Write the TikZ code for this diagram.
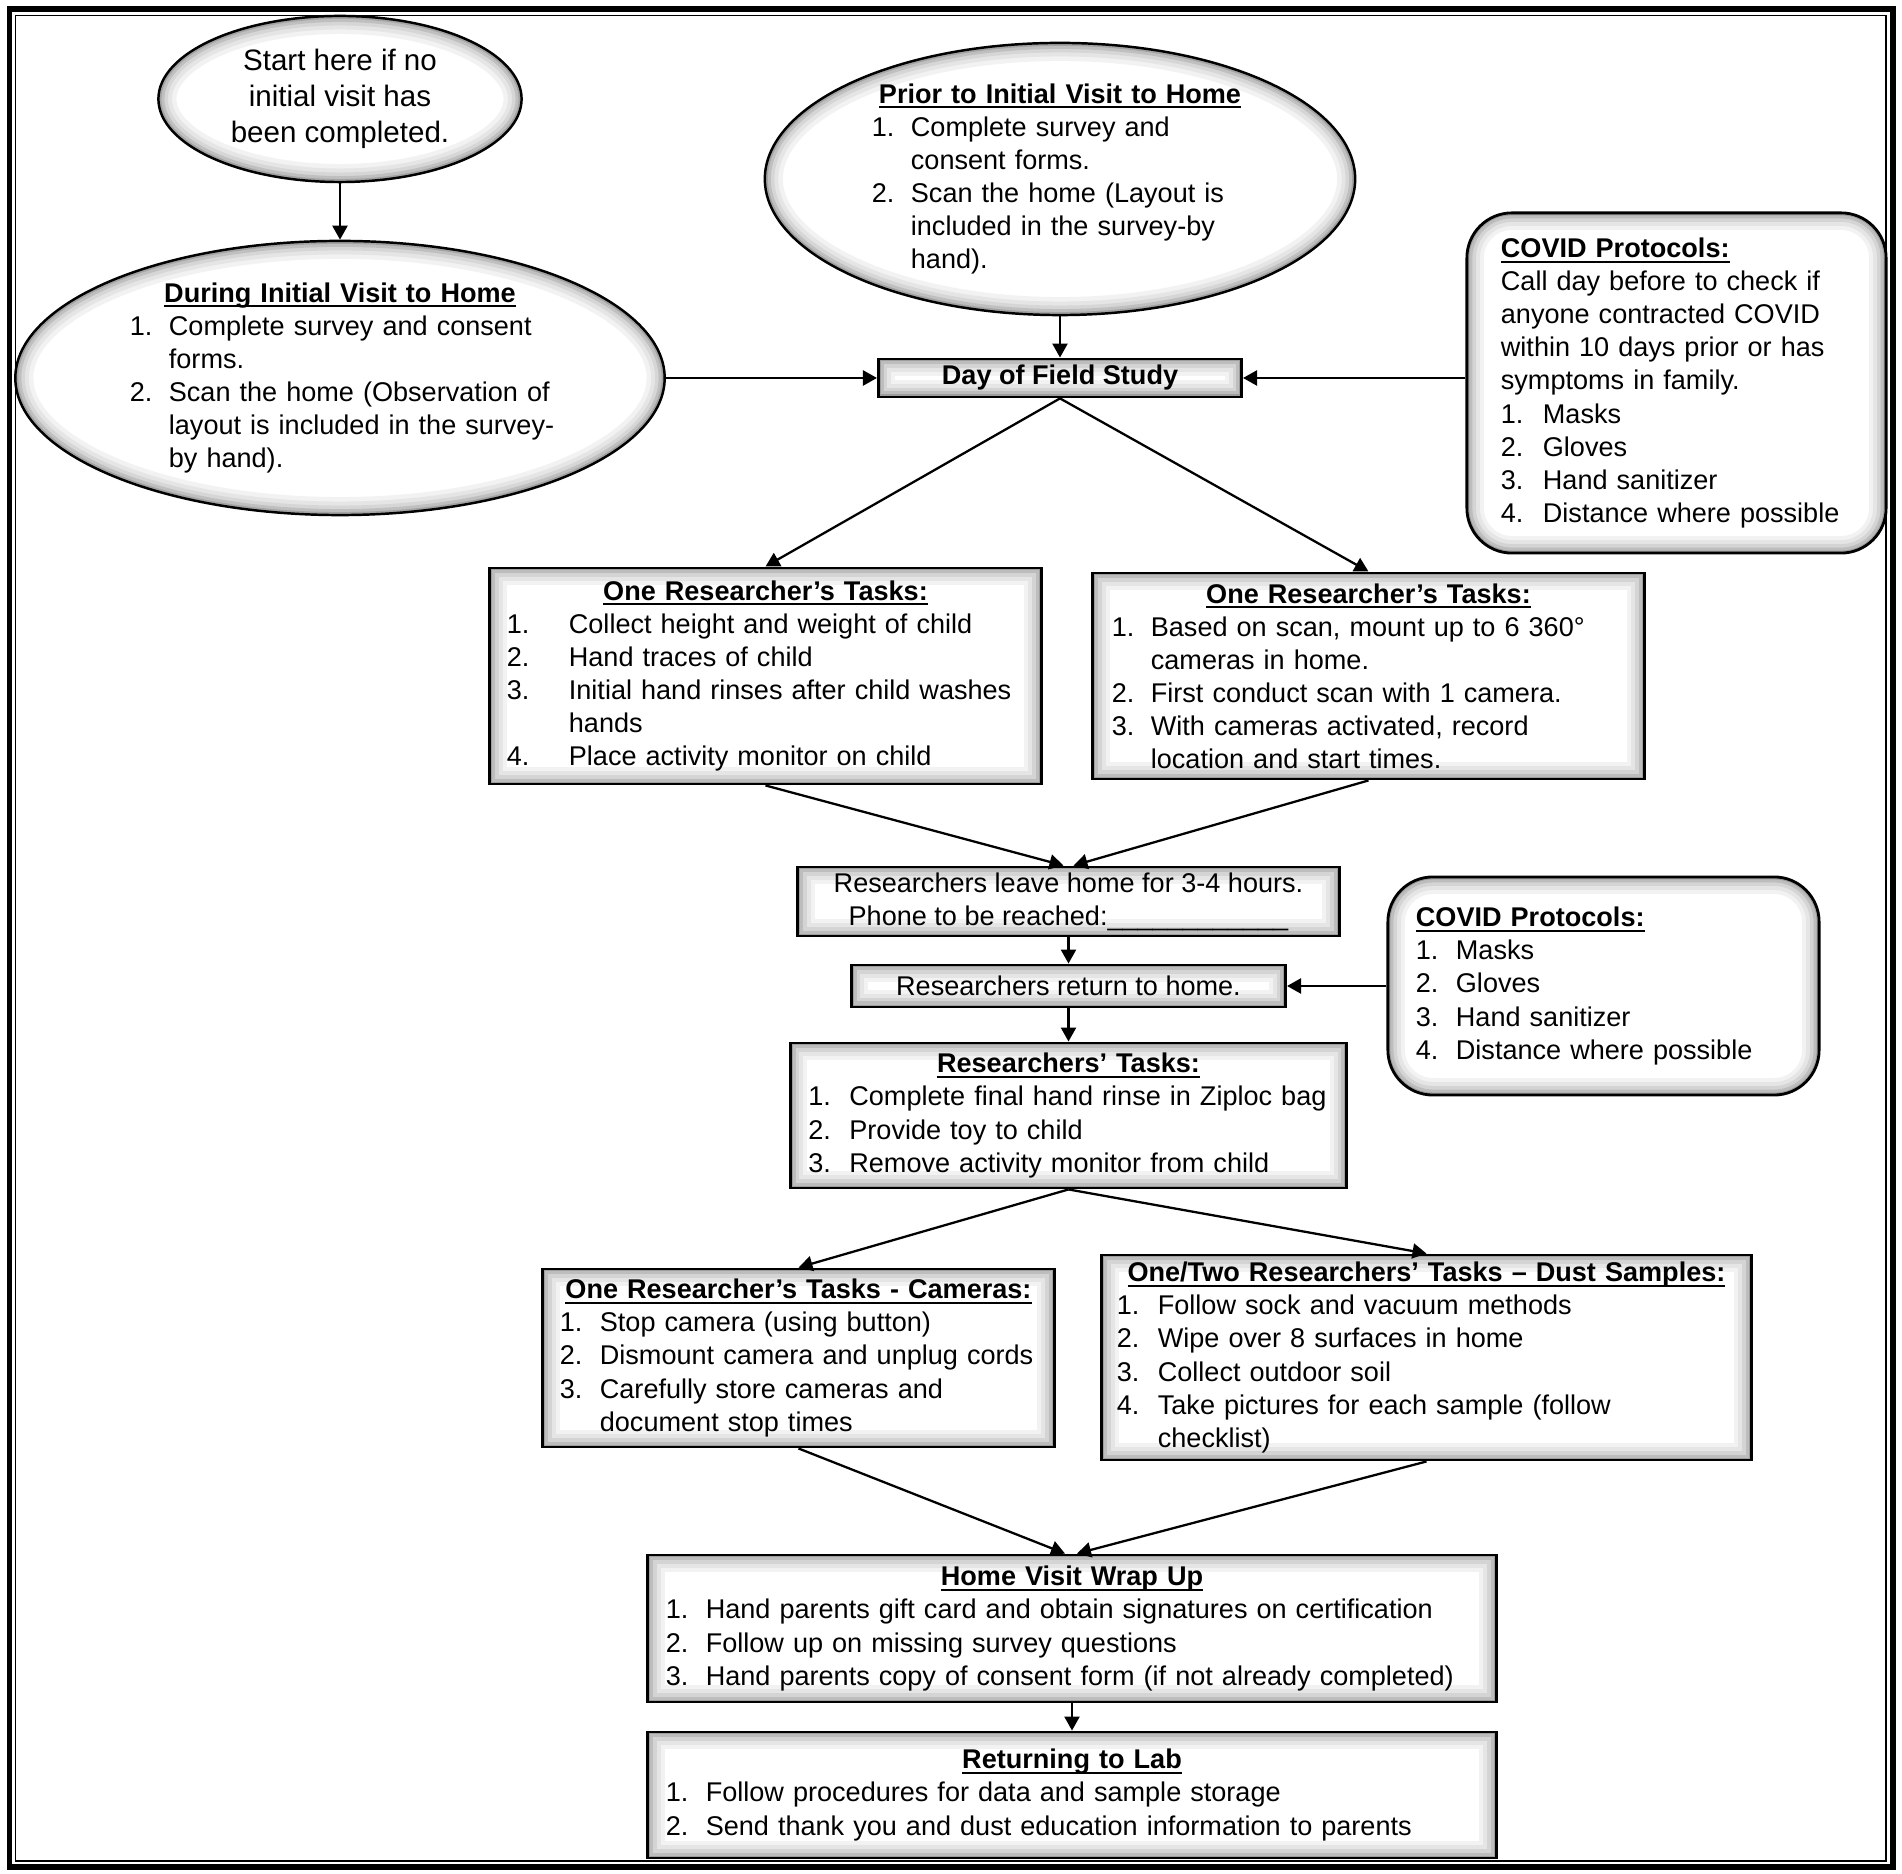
\documentclass[tikz,border=0pt]{standalone}
\usepackage{fontspec}
\setmainfont{Liberation Sans}
\usepackage{tikz}
\usetikzlibrary{shapes.geometric, arrows.meta, calc}
\newcommand{\boxfont}{\fontsize{7.7pt}{9.39pt}\selectfont}
\newcommand{\startfont}{\fontsize{8.4pt}{10.24pt}\selectfont}
\newlength{\numw}
\newcommand{\itemln}[2]{\mbox{\makebox[\numw][l]{#1}#2}}
\newcommand{\titleul}[1]{\setbox0=\hbox{\textbf{#1}}\rlap{\rule[-1.4pt]{\wd0}{0.55pt}}\box0}
\newcommand{\midhead}[1]{\noindent\hbox to\hsize{\hss\titleul{#1}\hss}}
\newcommand{\lefthead}[1]{\noindent\titleul{#1}}
\tikzset{
  boxglow/.style={path picture={
    \draw[black!5, line width=0.34cm, rounded corners=#1] (path picture bounding box.south west) rectangle (path picture bounding box.north east);
    \draw[black!10, line width=0.26cm, rounded corners=#1] (path picture bounding box.south west) rectangle (path picture bounding box.north east);
    \draw[black!17, line width=0.18cm, rounded corners=#1] (path picture bounding box.south west) rectangle (path picture bounding box.north east);
    \draw[black!26, line width=0.11cm, rounded corners=#1] (path picture bounding box.south west) rectangle (path picture bounding box.north east);
    \draw[black!38, line width=0.05cm, rounded corners=#1] (path picture bounding box.south west) rectangle (path picture bounding box.north east);
  }},
  boxglow/.default=0pt,
  ovalglow/.style={path picture={
    \path let \p1=($(path picture bounding box.north east)-(path picture bounding box.center)$) in
      \pgfextra{\xdef\ovrx{\x1}\xdef\ovry{\y1}};
    \draw[black!5, line width=0.36cm] (path picture bounding box.center) ellipse [x radius=\ovrx, y radius=\ovry];
    \draw[black!10, line width=0.27cm] (path picture bounding box.center) ellipse [x radius=\ovrx, y radius=\ovry];
    \draw[black!16, line width=0.19cm] (path picture bounding box.center) ellipse [x radius=\ovrx, y radius=\ovry];
    \draw[black!25, line width=0.12cm] (path picture bounding box.center) ellipse [x radius=\ovrx, y radius=\ovry];
    \draw[black!36, line width=0.06cm] (path picture bounding box.center) ellipse [x radius=\ovrx, y radius=\ovry];
  }},
  ovalnode/.style={draw, ellipse, line width=0.7pt, fill=white, inner sep=0pt, align=left, font=\boxfont, ovalglow},
  tasknode/.style={draw, rectangle, line width=0.8pt, fill=white, inner sep=0pt, align=left, font=\boxfont, boxglow},
  stepnode/.style={tasknode, align=center},
  covidnode/.style={draw, rectangle, rounded corners=0.45cm, line width=0.8pt, fill=white, inner sep=0pt, align=left, font=\boxfont, boxglow=0.45cm},
  listindent/.style={execute at begin node={\setlength{\numw}{#1}}},
  arrow/.style={-{Triangle[length=1.4mm, width=1.5mm]}, line width=0.65pt}
}
\begin{document}
\begin{tikzpicture}[x=0.01cm, y=-0.01cm]
\useasboundingbox (0,0) rectangle (1902,1874);

% Frame
\draw[line width=1.7pt] (9.5,9.5) rectangle (1893,1867);
\draw[line width=0.45pt] (15.5,15.5) rectangle (1886,1861);

% Nodes
\node[ovalnode, align=center, font=\startfont, minimum width=3.63cm, minimum height=1.66cm] (start) at (340,99)
  {Start here if no\\ initial visit has\\ been completed.};
\node[ovalnode, text width=4.20cm, listindent=0.39cm, minimum width=6.49cm, minimum height=2.74cm] (during) at (340,378)
  {\midhead{During Initial Visit to Home}\\
   \itemln{1.}{Complete survey and consent}\\
   \itemln{}{forms.}\\
   \itemln{2.}{Scan the home (Observation of}\\
   \itemln{}{layout is included in the survey-}\\
   \itemln{}{by hand).}};
\node[ovalnode, text width=3.76cm, listindent=0.39cm, minimum width=5.90cm, minimum height=2.72cm] (prior) at (1060,179)
  {\midhead{Prior to Initial Visit to Home}\\
   \itemln{1.}{Complete survey and}\\
   \itemln{}{consent forms.}\\
   \itemln{2.}{Scan the home (Layout is}\\
   \itemln{}{included in the survey-by}\\
   \itemln{}{hand).}};
\node[stepnode, minimum width=3.63cm, minimum height=0.38cm] (day) at (1060,378) {\textbf{Day of Field Study}};
\node[covidnode, text width=3.51cm, listindent=0.42cm, minimum width=4.19cm, minimum height=3.40cm] (covidA) at (1676.5,383)
  {\lefthead{COVID Protocols:}\\
   \mbox{Call day before to check if}\\
   \mbox{anyone contracted COVID}\\
   \mbox{within 10 days prior or has}\\
   \mbox{symptoms in family.}\\
   \itemln{1.}{Masks}\\
   \itemln{2.}{Gloves}\\
   \itemln{3.}{Hand sanitizer}\\
   \itemln{4.}{Distance where possible}};
\node[tasknode, text width=5.17cm, listindent=0.62cm, minimum width=5.51cm, minimum height=2.16cm] (taskA) at (765.5,676)
  {\midhead{One Researcher’s Tasks:}\\
   \itemln{1.}{Collect height and weight of child}\\
   \itemln{2.}{Hand traces of child}\\
   \itemln{3.}{Initial hand rinses after child washes}\\
   \itemln{}{hands}\\
   \itemln{4.}{Place activity monitor on child}};
\node[tasknode, text width=5.13cm, listindent=0.39cm, minimum width=5.51cm, minimum height=2.06cm] (taskB) at (1368.5,676)
  {\midhead{One Researcher’s Tasks:}\\
   \itemln{1.}{Based on scan, mount up to 6 360°}\\
   \itemln{}{cameras in home.}\\
   \itemln{2.}{First conduct scan with 1 camera.}\\
   \itemln{3.}{With cameras activated, record}\\
   \itemln{}{location and start times.}};
\node[stepnode, minimum width=5.41cm, minimum height=0.69cm] (leave) at (1068.5,901.5)
  {Researchers leave home for 3-4 hours.\\ Phone to be reached:\_\_\_\_\_\_\_\_\_\_\_\_};
\node[stepnode, minimum width=4.34cm, minimum height=0.42cm] (ret) at (1068.5,986) {Researchers return to home.};
\node[covidnode, text width=3.75cm, listindent=0.40cm, minimum width=4.31cm, minimum height=2.18cm] (covidB) at (1603.5,986)
  {\lefthead{COVID Protocols:}\\
   \itemln{1.}{Masks}\\
   \itemln{2.}{Gloves}\\
   \itemln{3.}{Hand sanitizer}\\
   \itemln{4.}{Distance where possible}};
\node[tasknode, text width=5.20cm, listindent=0.41cm, minimum width=5.56cm, minimum height=1.45cm] (rtasks) at (1068.5,1115.5)
  {\midhead{Researchers’ Tasks:}\\
   \itemln{1.}{Complete final hand rinse in Ziploc bag}\\
   \itemln{2.}{Provide toy to child}\\
   \itemln{3.}{Remove activity monitor from child}};
\node[tasknode, text width=4.77cm, listindent=0.40cm, minimum width=5.11cm, minimum height=1.78cm] (cams) at (798.5,1358)
  {\midhead{One Researcher’s Tasks - Cameras:}\\
   \itemln{1.}{Stop camera (using button)}\\
   \itemln{2.}{Dismount camera and unplug cords}\\
   \itemln{3.}{Carefully store cameras and}\\
   \itemln{}{document stop times}};
\node[tasknode, text width=6.19cm, listindent=0.41cm, minimum width=6.49cm, minimum height=2.05cm] (dust) at (1426.5,1357.5)
  {\midhead{One/Two Researchers’ Tasks – Dust Samples:}\\
   \itemln{1.}{Follow sock and vacuum methods}\\
   \itemln{2.}{Wipe over 8 surfaces in home}\\
   \itemln{3.}{Collect outdoor soil}\\
   \itemln{4.}{Take pictures for each sample (follow}\\
   \itemln{}{checklist)}};
\node[tasknode, text width=8.12cm, listindent=0.40cm, minimum width=8.48cm, minimum height=1.47cm] (wrap) at (1072,1628.5)
  {\midhead{Home Visit Wrap Up}\\
   \itemln{1.}{Hand parents gift card and obtain signatures on certification}\\
   \itemln{2.}{Follow up on missing survey questions}\\
   \itemln{3.}{Hand parents copy of consent form (if not already completed)}};
\node[tasknode, text width=8.12cm, listindent=0.40cm, minimum width=8.48cm, minimum height=1.26cm] (lab) at (1072,1795)
  {\midhead{Returning to Lab}\\
   \itemln{1.}{Follow procedures for data and sample storage}\\
   \itemln{2.}{Send thank you and dust education information to parents}};

% Connections
\draw[arrow] (start) -- (during);
\draw[arrow] (prior) -- (day);
\draw[arrow] (during) -- (day);
\draw[arrow] (covidA.west |- day) -- (day);
\draw[arrow] (day.south) -- (taskA.north);
\draw[arrow] (day.south) -- (taskB.north);
\draw[arrow] (taskA.south) -- ([xshift=-0.05cm]leave.north);
\draw[arrow] (taskB.south) -- ([xshift=0.05cm]leave.north);
\draw[arrow] (leave) -- (ret);
\draw[arrow] (covidB) -- (ret);
\draw[arrow] (ret) -- (rtasks);
\draw[arrow] (rtasks.south) -- (cams.north);
\draw[arrow] (rtasks.south) -- (dust.north);
\draw[arrow] (cams.south) -- ([xshift=-0.07cm]wrap.north);
\draw[arrow] (dust.south) -- ([xshift=0.05cm]wrap.north);
\draw[arrow] (wrap) -- (lab);

\end{tikzpicture}
\end{document}
